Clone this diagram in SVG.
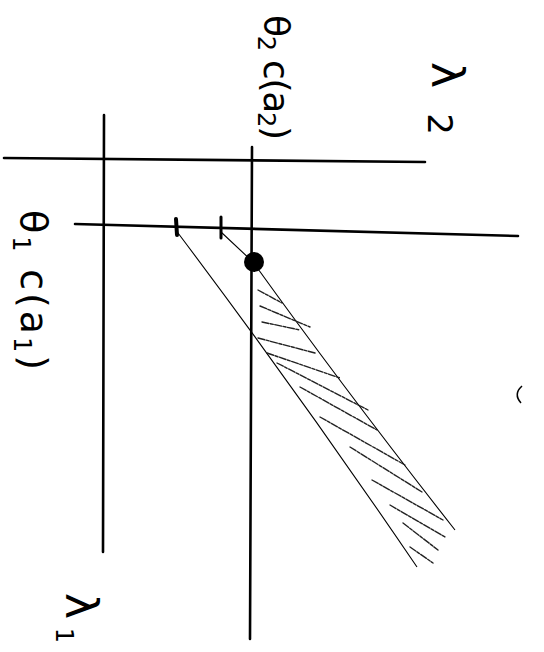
<svg xmlns="http://www.w3.org/2000/svg" width="544" height="652" viewBox="0 0 544 652">
<style>
.axis{stroke:#000;stroke-width:2.6;fill:none;stroke-linecap:round}
.edge{stroke:#000;stroke-width:1.1;fill:none}
.hatch{stroke:#222;stroke-width:1.4;fill:none;stroke-dasharray:7 1.5 3 1.5;stroke-linecap:round}
.lbl{font-family:"DejaVu Sans","Liberation Sans",sans-serif;fill:#000}
</style>
<rect width="544" height="652" fill="#fff"/>
<g id="axes">
<line class="axis" x1="4" y1="158" x2="425" y2="162"/>
<line class="axis" x1="75" y1="224" x2="518" y2="236"/>
<line class="axis" x1="104" y1="115" x2="103" y2="552"/>
<line class="axis" x1="252" y1="147" x2="250" y2="639"/>
</g>
<g id="ticks">
<line x1="176" y1="219" x2="177" y2="235" stroke="#000" stroke-width="4" stroke-linecap="round"/>
<line x1="221" y1="217" x2="221" y2="238" stroke="#000" stroke-width="3" stroke-linecap="round"/>
</g>
<g id="region">
<path class="edge" d="M178,233 Q300,395 417,567"/>
<path class="edge" d="M221,232 L253,262 Q345,390 455,530"/>
<line class="hatch" x1="258" y1="290" x2="282" y2="303"/>
<line class="hatch" x1="260" y1="306" x2="310" y2="327"/>
<line class="hatch" x1="262" y1="322" x2="300" y2="330"/>
<line class="hatch" x1="258" y1="338" x2="315" y2="353"/>
<line class="hatch" x1="267" y1="353" x2="340" y2="378"/>
<line class="hatch" x1="277" y1="363" x2="368" y2="410"/>
<line class="hatch" x1="300" y1="387" x2="377" y2="430"/>
<line class="hatch" x1="320" y1="417" x2="405" y2="465"/>
<line class="hatch" x1="350" y1="447" x2="422" y2="492"/>
<line class="hatch" x1="372" y1="480" x2="443" y2="520"/>
<line class="hatch" x1="390" y1="505" x2="445" y2="537"/>
<line class="hatch" x1="403" y1="523" x2="438" y2="550"/>
<line class="hatch" x1="410" y1="547" x2="433" y2="563"/>
</g>
<g id="point">
<circle cx="254" cy="262" r="10" fill="#000"/>
</g>
<g id="labels">
<text class="lbl" font-size="36" transform="translate(264,15) rotate(90)" textLength="125" lengthAdjust="spacing">θ<tspan dy="6" font-size="24">2</tspan><tspan dy="-6"> c(a</tspan><tspan dy="6" font-size="24">2</tspan><tspan dy="-6">)</tspan></text>
<text class="lbl" font-size="38" transform="translate(21,210) rotate(90)" textLength="160" lengthAdjust="spacing">θ<tspan dy="8" font-size="24">1</tspan><tspan dy="-8"> c(a</tspan><tspan dy="7" font-size="24">1</tspan><tspan dy="-7">)</tspan></text>
<text class="lbl" font-size="44" transform="translate(432,62) rotate(90)" textLength="73" lengthAdjust="spacing">λ<tspan dy="4" font-size="34">2</tspan></text>
<text class="lbl" font-size="44" transform="translate(66,593) rotate(90)" textLength="50" lengthAdjust="spacing">λ<tspan dy="10" font-size="24">1</tspan></text>
</g>
<path d="M522,386 Q513,394 521,403" stroke="#000" stroke-width="1.5" fill="none"/>
</svg>
